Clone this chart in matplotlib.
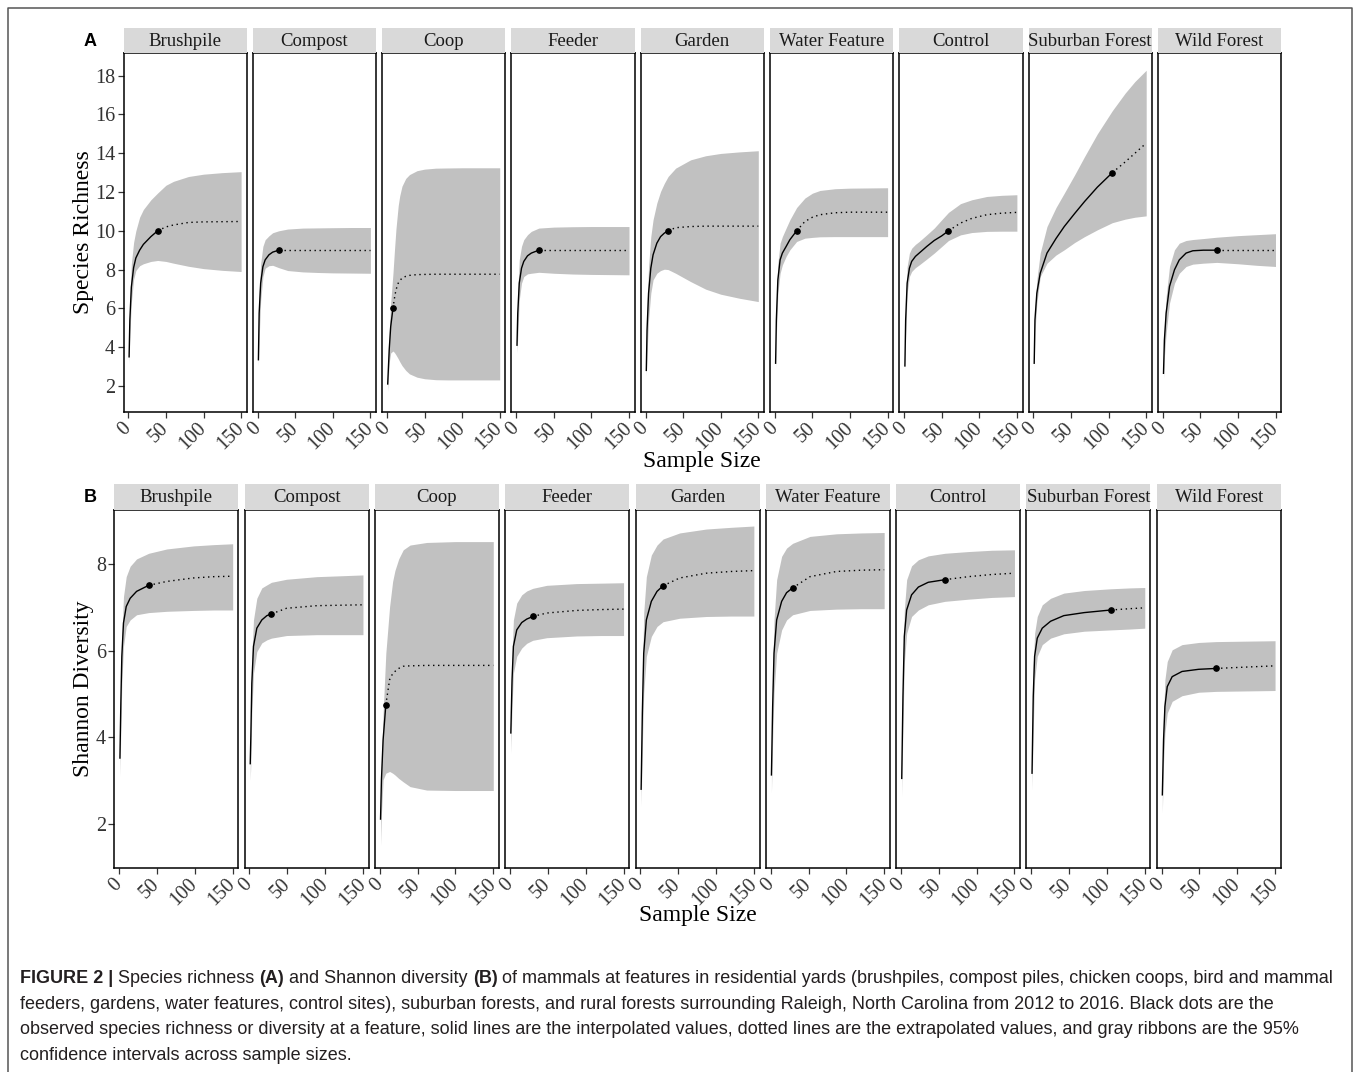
import matplotlib
matplotlib.use('Agg')
import matplotlib.pyplot as plt
from matplotlib.lines import Line2D

W, H = 1358, 1072
DPI = 100

categories = ['Brushpile', 'Compost', 'Coop', 'Feeder', 'Garden', 'Water Feature',
              'Control', 'Suburban Forest', 'Wild Forest']
xticks = [0, 50, 100, 150]
rich_yticks = [2, 4, 6, 8, 10, 12, 14, 16, 18]
shan_yticks = [2, 4, 6, 8]

# ---------------- Species richness (A) ----------------
rich_n = [39, 28, 8, 30, 30, 29, 59, 105, 72]
rich_x = [
    [1, 2, 4, 7, 10, 15, 20, 30, 39, 50, 60, 80, 100, 125, 150],
    [1, 2, 4, 7, 10, 15, 20, 28, 40, 60, 80, 100, 125, 150],
    [1, 3, 5, 8, 10, 12, 15, 17, 20, 25, 30, 40, 50, 65, 80, 100, 125, 150],
    [1, 2, 4, 7, 10, 15, 20, 30, 50, 75, 100, 125, 150],
    [1, 2, 4, 7, 10, 15, 20, 25, 30, 40, 60, 80, 100, 125, 150],
    [1, 2, 4, 7, 10, 15, 20, 29, 40, 50, 60, 80, 100, 125, 150],
    [1, 2, 4, 7, 10, 15, 20, 30, 40, 50, 59, 75, 90, 110, 130, 150],
    [1, 2, 4.5, 9, 18, 30, 41, 55, 68, 85, 105, 122, 135, 150],
    [1, 2.2, 4.5, 9, 15.6, 22, 31, 40, 54, 72, 100, 125, 150],
]
rich_est = [
    [3.5, 5.4, 7.1, 8.1, 8.6, 9.0, 9.3, 9.7, 10.0, 10.2, 10.3, 10.43, 10.46, 10.47, 10.48],
    [3.35, 5.75, 7.3, 8.15, 8.5, 8.76, 8.9, 9.0, 9.0, 9.0, 9.0, 9.0, 9.0, 9.0],
    [2.1, 3.86, 5.06, 6.0, 6.53, 6.95, 7.3, 7.42, 7.56, 7.65, 7.7, 7.74, 7.75, 7.76, 7.76, 7.76, 7.76, 7.76],
    [4.1, 5.75, 7.3, 8.07, 8.42, 8.71, 8.85, 9.0, 9.0, 9.0, 9.0, 9.0, 9.0],
    [2.8, 4.9, 6.78, 8.07, 8.76, 9.36, 9.7, 9.88, 10.0, 10.16, 10.22, 10.24, 10.24, 10.24, 10.24],
    [3.17, 5.4, 7.47, 8.5, 8.85, 9.19, 9.54, 10.0, 10.48, 10.7, 10.83, 10.93, 10.96, 10.96, 10.96],
    [3.03, 5.4, 7.3, 8.07, 8.42, 8.68, 8.85, 9.19, 9.5, 9.74, 10.0, 10.4, 10.64, 10.83, 10.91, 10.95],
    [3.17, 5.4, 6.78, 7.81, 8.85, 9.6, 10.22, 10.9, 11.51, 12.25, 13.0, 13.55, 14.0, 14.52],
    [2.65, 4.37, 5.75, 7.13, 7.99, 8.5, 8.85, 8.97, 9.0, 9.0, 9.0, 9.0, 9.0],
]
rich_hi = [
    [3.9, 6.3, 8.3, 9.4, 10.0, 10.7, 11.1, 11.6, 11.95, 12.35, 12.55, 12.8, 12.92, 13.0, 13.05],
    [3.8, 6.8, 8.3, 9.2, 9.54, 9.74, 9.9, 10.0, 10.09, 10.14, 10.15, 10.16, 10.17, 10.17],
    [2.3, 4.8, 6.3, 7.8, 9.0, 10.1, 11.3, 11.8, 12.3, 12.7, 12.9, 13.1, 13.18, 13.23, 13.24, 13.25, 13.25, 13.25],
    [4.4, 6.8, 8.5, 9.2, 9.54, 9.8, 9.97, 10.14, 10.19, 10.21, 10.22, 10.22, 10.22],
    [3.1, 6.1, 8.16, 9.7, 10.57, 11.43, 12.03, 12.45, 12.8, 13.23, 13.66, 13.87, 13.99, 14.07, 14.13],
    [3.5, 6.44, 8.33, 9.36, 9.7, 10.14, 10.57, 11.2, 11.69, 11.94, 12.08, 12.17, 12.2, 12.21, 12.22],
    [3.3, 6.27, 8.16, 8.85, 9.1, 9.3, 9.45, 9.79, 10.14, 10.57, 10.95, 11.4, 11.6, 11.77, 11.83, 11.86],
    [3.4, 6.0, 7.47, 8.85, 10.22, 11.2, 11.94, 12.9, 13.83, 15.0, 16.2, 17.1, 17.7, 18.28],
    [2.9, 5.06, 6.61, 8.16, 9.02, 9.36, 9.5, 9.55, 9.6, 9.67, 9.75, 9.8, 9.85],
]
rich_lo = [
    [3.1, 4.6, 6.3, 7.5, 7.95, 8.2, 8.3, 8.42, 8.47, 8.42, 8.33, 8.17, 8.05, 7.96, 7.9],
    [3.0, 4.4, 6.4, 7.64, 8.07, 8.2, 8.22, 8.1, 7.95, 7.88, 7.85, 7.83, 7.82, 7.81],
    [1.7, 3.2, 3.7, 3.8, 3.72, 3.6, 3.4, 3.25, 3.05, 2.8, 2.62, 2.45, 2.37, 2.32, 2.31, 2.31, 2.31, 2.31],
    [3.7, 4.55, 6.44, 7.3, 7.64, 7.78, 7.81, 7.86, 7.81, 7.77, 7.75, 7.74, 7.73],
    [2.5, 3.69, 5.4, 6.78, 7.47, 7.81, 7.95, 8.02, 8.0, 7.81, 7.38, 6.99, 6.73, 6.52, 6.35],
    [2.9, 4.55, 6.78, 7.81, 8.24, 8.68, 9.02, 9.45, 9.62, 9.66, 9.69, 9.7, 9.7, 9.7, 9.7],
    [2.8, 4.55, 6.78, 7.64, 7.9, 8.1, 8.24, 8.54, 8.85, 9.19, 9.5, 9.79, 9.91, 9.97, 9.98, 9.98],
    [2.9, 4.8, 6.27, 7.64, 8.33, 8.75, 9.02, 9.4, 9.7, 10.05, 10.42, 10.6, 10.7, 10.77],
    [2.4, 3.5, 4.72, 6.27, 7.3, 7.81, 8.16, 8.28, 8.33, 8.37, 8.3, 8.22, 8.16],
]

# ---------------- Shannon diversity (B) ----------------
shan_n = [39, 29, 8, 30, 30, 29, 58, 105, 72]
shan_x = [
    [1, 2.2, 3.5, 5.7, 9.3, 14.5, 23, 39, 63, 98, 125, 150],
    [1, 1.8, 3.1, 5.3, 9.7, 16.3, 23, 29, 49, 89, 120, 150],
    [1, 2.2, 4.4, 8, 13, 17, 20, 25, 31, 40, 62, 100, 150],
    [1, 2.6, 4.4, 8.8, 15.4, 22, 30, 48.5, 88, 120, 150],
    [1, 2.6, 4.4, 7.9, 14.5, 22, 30, 52, 87, 120, 150],
    [1, 2.6, 4.4, 7.9, 14.5, 21, 29, 52, 87, 120, 150],
    [1, 2.6, 4.4, 7.5, 14, 23, 36, 58, 89, 120, 150],
    [1, 2.6, 4.4, 7.9, 14.5, 25.5, 43, 70, 105, 130, 150],
    [1, 2.6, 4.4, 7.5, 14, 27, 49, 72, 110, 150],
]
shan_est = [
    [3.52, 4.79, 5.87, 6.64, 7.02, 7.21, 7.37, 7.51, 7.6, 7.68, 7.71, 7.72],
    [3.39, 4.02, 5.25, 6.1, 6.52, 6.71, 6.81, 6.85, 6.98, 7.04, 7.05, 7.06],
    [2.11, 3.02, 3.94, 4.75, 5.33, 5.47, 5.52, 5.59, 5.64, 5.65, 5.66, 5.66, 5.66],
    [4.1, 5.33, 6.1, 6.48, 6.65, 6.73, 6.79, 6.87, 6.93, 6.95, 6.96],
    [2.8, 4.56, 5.94, 6.71, 7.14, 7.37, 7.5, 7.68, 7.79, 7.83, 7.85],
    [3.13, 4.71, 5.94, 6.71, 7.14, 7.34, 7.45, 7.71, 7.83, 7.86, 7.87],
    [3.05, 4.94, 6.33, 6.94, 7.29, 7.47, 7.58, 7.64, 7.71, 7.76, 7.79],
    [3.17, 4.94, 5.87, 6.29, 6.52, 6.68, 6.81, 6.88, 6.94, 6.97, 6.99],
    [2.67, 3.94, 4.71, 5.17, 5.4, 5.52, 5.57, 5.59, 5.62, 5.65],
]
shan_hi = [
    [3.8, 5.25, 6.33, 7.25, 7.71, 7.95, 8.12, 8.25, 8.35, 8.42, 8.45, 8.47],
    [3.7, 4.56, 5.87, 6.71, 7.21, 7.45, 7.52, 7.58, 7.65, 7.71, 7.73, 7.75],
    [2.4, 3.4, 4.56, 5.94, 7.02, 7.6, 7.85, 8.12, 8.33, 8.44, 8.5, 8.52, 8.52],
    [4.56, 5.94, 6.71, 7.1, 7.29, 7.38, 7.44, 7.51, 7.55, 7.56, 7.57],
    [3.25, 5.33, 6.87, 7.71, 8.21, 8.44, 8.58, 8.72, 8.81, 8.85, 8.88],
    [3.55, 5.48, 6.71, 7.64, 8.18, 8.37, 8.48, 8.64, 8.7, 8.72, 8.73],
    [3.48, 5.64, 6.94, 7.64, 7.96, 8.1, 8.19, 8.25, 8.29, 8.32, 8.33],
    [3.55, 5.64, 6.4, 6.79, 7.06, 7.21, 7.33, 7.39, 7.43, 7.45, 7.46],
    [3.09, 4.48, 5.33, 5.75, 6.02, 6.14, 6.19, 6.21, 6.22, 6.23],
]
shan_lo = [
    [3.09, 4.17, 5.25, 6.1, 6.56, 6.71, 6.83, 6.88, 6.91, 6.93, 6.94, 6.94],
    [3.0, 3.4, 4.56, 5.48, 5.98, 6.18, 6.25, 6.29, 6.35, 6.37, 6.37, 6.37],
    [1.5, 2.24, 3.02, 3.17, 3.21, 3.17, 3.13, 3.05, 2.97, 2.86, 2.78, 2.77, 2.77],
    [3.63, 4.71, 5.48, 5.87, 6.06, 6.17, 6.24, 6.3, 6.34, 6.35, 6.35],
    [2.4, 3.79, 5.02, 5.87, 6.33, 6.56, 6.67, 6.75, 6.79, 6.8, 6.8],
    [2.71, 3.94, 5.02, 5.94, 6.48, 6.71, 6.83, 6.93, 6.96, 6.97, 6.97],
    [2.63, 4.25, 5.71, 6.4, 6.79, 6.94, 7.06, 7.14, 7.19, 7.23, 7.25],
    [2.78, 4.17, 5.33, 5.87, 6.14, 6.29, 6.39, 6.45, 6.48, 6.5, 6.52],
    [2.25, 3.4, 4.1, 4.56, 4.83, 4.96, 5.04, 5.06, 5.07, 5.08],
]

caption_lines = [
    [("FIGURE 2 |", True), (" Species richness ", False), ("(A)", True),
     (" and Shannon diversity ", False), ("(B)", True),
     (" of mammals at features in residential yards (brushpiles, compost piles, chicken coops, bird and mammal", False)],
    [("feeders, gardens, water features, control sites), suburban forests, and rural forests surrounding Raleigh, North Carolina from 2012 to 2016. Black dots are the", False)],
    [("observed species richness or diversity at a feature, solid lines are the interpolated values, dotted lines are the extrapolated values, and gray ribbons are the 95%", False)],
    [("confidence intervals across sample sizes.", False)],
]

plt.rcParams['font.family'] = ['Liberation Serif', 'DejaVu Serif']
fig = plt.figure(figsize=(W / DPI, H / DPI), dpi=DPI)
fig.patch.set_facecolor('white')

RIBBON = '#c1c1c1'
TICK_FS = 14.5
STRIP_FS = 13.5
TITLE_FS = 17


def fbox(l, t, w, h):
    return [l / W, 1 - (t + h) / H, w / W, h / H]


def draw_row(lefts, width, top, bottom, strip_top, xs, ests, los, his, ns, ylim, yticks):
    for i, cat in enumerate(categories):
        ax = fig.add_axes(fbox(lefts[i], top, width, bottom - top))
        x = xs[i]
        e = ests[i]
        k = x.index(ns[i])
        ax.fill_between(x, los[i], his[i], color=RIBBON, lw=0, zorder=1)
        ax.plot(x[:k + 1], e[:k + 1], color='black', lw=1.0, zorder=3)
        ax.plot(x[k:], e[k:], color='black', lw=1.0, linestyle=(0, (1, 2.6)), zorder=3)
        ax.plot([x[k]], [e[k]], 'o', color='black', ms=3.8, zorder=4)
        ax.set_xlim(-6.45, 157.45)
        ax.set_ylim(*ylim)
        ax.set_xticks(xticks)
        ax.set_xticklabels([str(t) for t in xticks], rotation=45, ha='right', va='center',
                           rotation_mode='anchor', fontsize=TICK_FS, color='#333333')
        ax.tick_params(axis='x', length=4, width=0.9, pad=6, color='#333333')
        if i == 0:
            ax.set_yticks(yticks)
            ax.set_yticklabels([str(t) for t in yticks], fontsize=TICK_FS, color='#333333')
            ax.tick_params(axis='y', length=4, width=0.9, pad=2, color='#333333')
        else:
            ax.set_yticks([])
        for s in ax.spines.values():
            s.set_linewidth(1.1)
            s.set_color('black')
        sax = fig.add_axes(fbox(lefts[i], strip_top, width, top - strip_top))
        sax.set_facecolor('#d9d9d9')
        sax.set_xticks([])
        sax.set_yticks([])
        for s in sax.spines.values():
            s.set_visible(False)
        sax.text(0.5, 0.47, cat, ha='center', va='center', fontsize=STRIP_FS,
                 color='#1a1a1a', transform=sax.transAxes)


# Panel A
lefts_a = [123.5 + i * 129.3 for i in range(9)]
draw_row(lefts_a, 123.2, 53, 411.7, 28, rich_x, rich_est, rich_lo, rich_hi, rich_n,
         (0.67, 19.17), rich_yticks)
# Panel B
lefts_b = [114.3 + i * 130.3 for i in range(9)]
draw_row(lefts_b, 124.0, 510, 868, 484, shan_x, shan_est, shan_lo, shan_hi, shan_n,
         (0.98, 9.25), shan_yticks)

# axis titles
fig.text(83 / W, 1 - 232 / H, 'Species Richness', rotation=90, ha='center', va='center',
         fontsize=TITLE_FS)
fig.text(83 / W, 1 - 689 / H, 'Shannon Diversity', rotation=90, ha='center', va='center',
         fontsize=TITLE_FS)
fig.text(702 / W, 1 - 461 / H, 'Sample Size', ha='center', va='center', fontsize=TITLE_FS)
fig.text(698 / W, 1 - 916 / H, 'Sample Size', ha='center', va='center', fontsize=TITLE_FS)

# panel letters
fig.text(90 / W, 1 - 42 / H, 'A', ha='center', va='center', fontsize=13, fontweight='bold',
         family='Liberation Sans')
fig.text(90 / W, 1 - 497 / H, 'B', ha='center', va='center', fontsize=13, fontweight='bold',
         family='Liberation Sans')

# frame
fig.add_artist(Line2D([8 / W, 8 / W, 1352 / W, 1352 / W], [0, 1 - 8 / H, 1 - 8 / H, 0],
                      transform=fig.transFigure, color='#555555', lw=1.1))

# caption
renderer = fig.canvas.get_renderer()
CAP_FS = 13
CAP_COLOR = '#231f20'


def measure(s, bold):
    t = fig.text(0, 0, s, fontsize=CAP_FS, family='Liberation Sans',
                 fontweight='bold' if bold else 'normal')
    w = t.get_window_extent(renderer).width
    t.remove()
    return w


space_w = measure('x x', False) - measure('xx', False)


def draw_caption_line(pieces, x_px, base_px):
    x = x_px
    for txt, bold in pieces:
        lead = len(txt) - len(txt.lstrip(' '))
        trail = len(txt) - len(txt.rstrip(' '))
        core = txt.strip(' ')
        x += lead * space_w
        t = fig.text(x / W, 1 - base_px / H, core, fontsize=CAP_FS, family='Liberation Sans',
                     fontweight='bold' if bold else 'normal', color=CAP_COLOR, va='baseline')
        bb = t.get_window_extent(renderer)
        x = bb.x1 + trail * space_w


for line, base in zip(caption_lines, [983, 1009, 1034, 1060]):
    draw_caption_line(line, 20, base)

fig.savefig('out.png', dpi=DPI, facecolor='white')
